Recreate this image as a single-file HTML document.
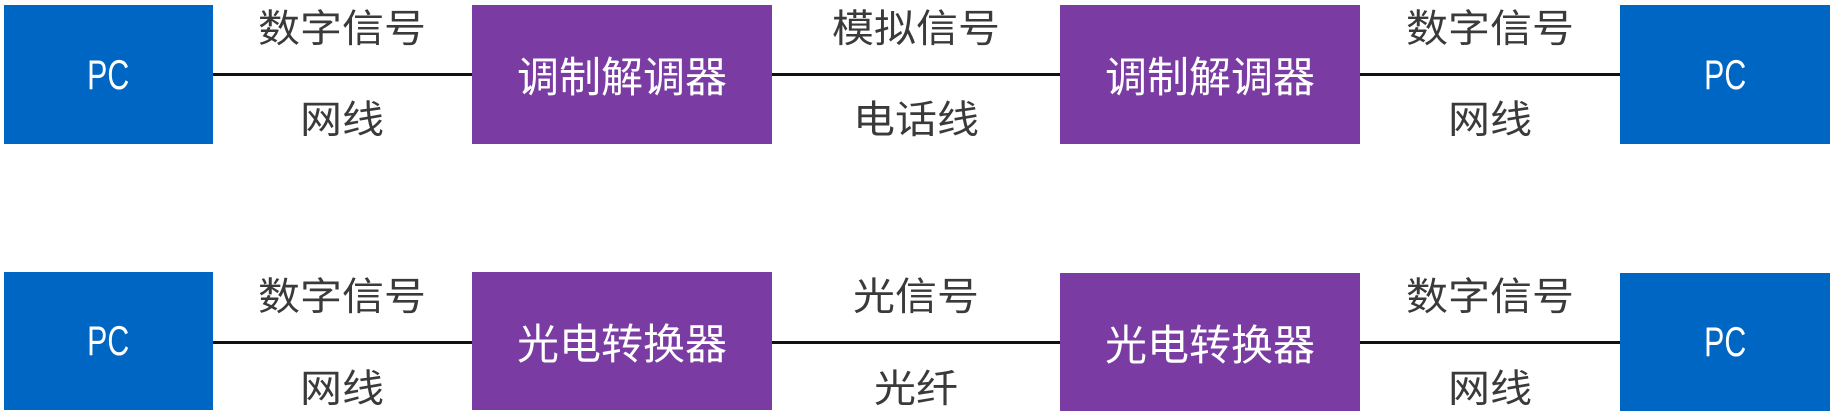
<!DOCTYPE html>
<html><head><meta charset="utf-8"><style>
html,body{margin:0;padding:0;background:#fff;width:1834px;height:417px;overflow:hidden;position:relative;font-family:"Liberation Sans","Noto Sans CJK SC",sans-serif}
.b{position:absolute;color:#fff;display:flex;align-items:center;justify-content:center}
.pc{background:#0066c4;font-size:42px}
.pc span{display:inline-block;transform:scaleX(0.72)}
.pu{background:#7a3ca3;font-size:42px}
.l{position:absolute;height:3px;background:#111}
.t{position:absolute;color:#3a3a3a;font-size:42px;text-align:center;width:300px;line-height:1;transform:scaleY(0.92)}
</style></head><body>
<!-- row 1 -->
<div class="l" style="left:212px;width:262px;top:73px"></div>
<div class="l" style="left:771px;width:290px;top:73px"></div>
<div class="l" style="left:1359px;width:262px;top:73px"></div>
<div class="b pc" style="left:4px;top:5px;width:209px;height:139px"><span>PC</span></div>
<div class="b pu" style="left:472px;top:5px;width:300px;height:139px">调制解调器</div>
<div class="b pu" style="left:1060px;top:5px;width:300px;height:139px">调制解调器</div>
<div class="b pc" style="left:1620px;top:5px;width:210px;height:139px"><span>PC</span></div>
<div class="t" style="left:192px;top:8px">数字信号</div>
<div class="t" style="left:192px;top:99px">网线</div>
<div class="t" style="left:766px;top:8px">模拟信号</div>
<div class="t" style="left:766px;top:99px">电话线</div>
<div class="t" style="left:1340px;top:8px">数字信号</div>
<div class="t" style="left:1340px;top:99px">网线</div>
<!-- row 2 -->
<div class="l" style="left:212px;width:262px;top:341px"></div>
<div class="l" style="left:771px;width:290px;top:341px"></div>
<div class="l" style="left:1359px;width:262px;top:341px"></div>
<div class="b pc" style="left:4px;top:272px;width:209px;height:138px"><span>PC</span></div>
<div class="b pu" style="left:472px;top:272px;width:300px;height:138px">光电转换器</div>
<div class="b pu" style="left:1060px;top:273px;width:300px;height:138px">光电转换器</div>
<div class="b pc" style="left:1620px;top:273px;width:210px;height:138px"><span>PC</span></div>
<div class="t" style="left:192px;top:276px">数字信号</div>
<div class="t" style="left:192px;top:368px">网线</div>
<div class="t" style="left:766px;top:276px">光信号</div>
<div class="t" style="left:766px;top:368px">光纤</div>
<div class="t" style="left:1340px;top:276px">数字信号</div>
<div class="t" style="left:1340px;top:368px">网线</div>
</body></html>
